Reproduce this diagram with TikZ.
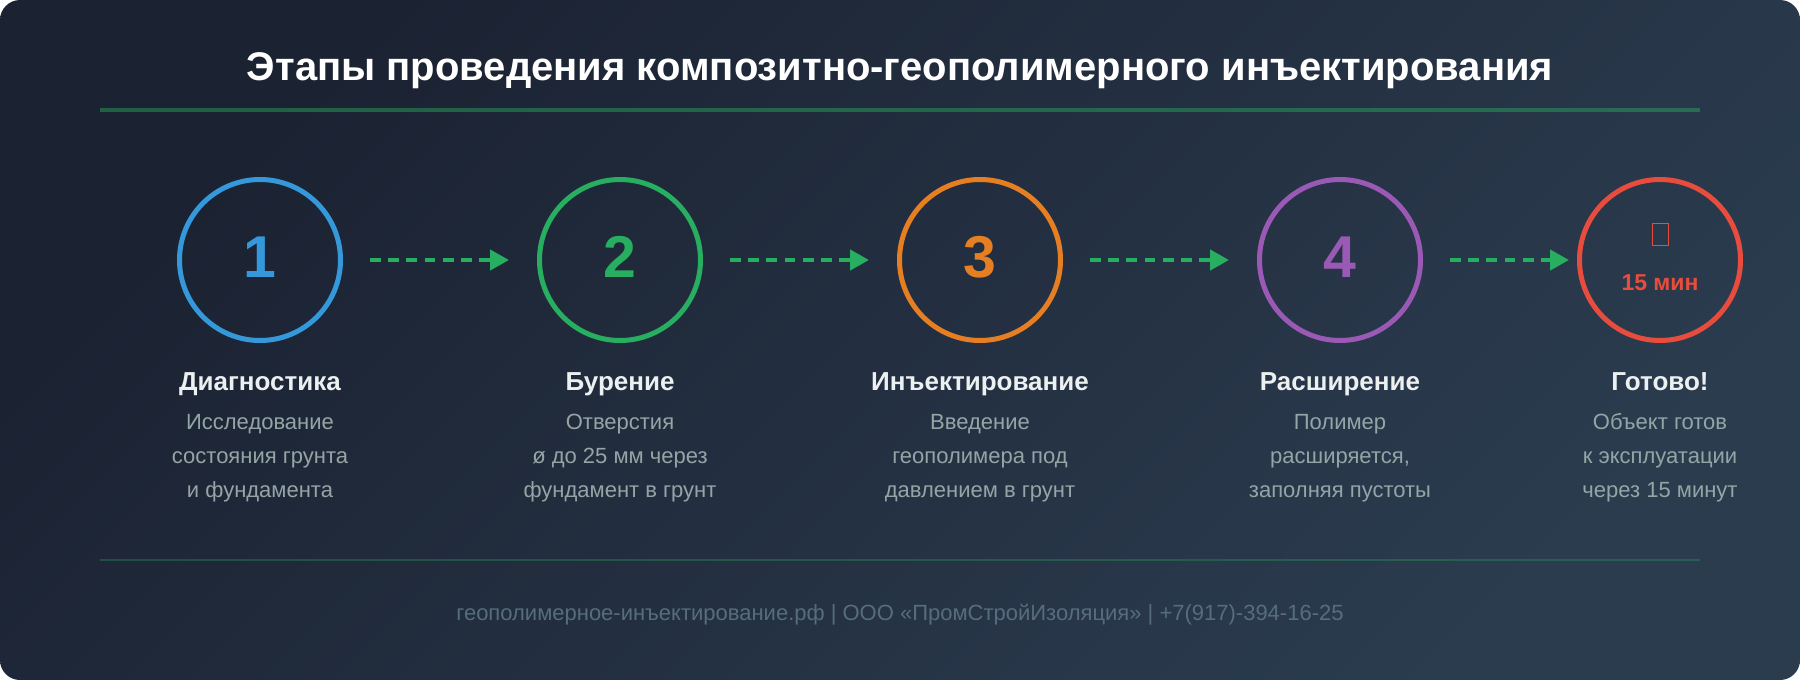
\documentclass[tikz,border=0pt]{standalone}
\usepackage{fontspec}
\setmainfont{Liberation Sans}
\usetikzlibrary{arrows.meta}
\definecolor{bgA}{HTML}{1B2232}
\definecolor{bgB}{HTML}{2B3C4F}
\definecolor{cblue}{HTML}{3498DB}
\definecolor{cgreen}{HTML}{27AE60}
\definecolor{corange}{HTML}{E67E22}
\definecolor{cpurple}{HTML}{9B59B6}
\definecolor{cred}{HTML}{E74C3C}
\definecolor{ttlcol}{HTML}{ECF0F1}
\definecolor{desccol}{HTML}{95A5A6}
\definecolor{footcol}{HTML}{566D7E}
\begin{document}
\begin{tikzpicture}[x=1pt,y=-1pt,
  ring/.style={circle, draw=#1, line width=5pt, minimum size=161pt, inner sep=0pt},
  numtxt/.style={anchor=base, text=#1, font=\fontsize{59}{60}\selectfont\bfseries, inner sep=0pt},
  steptitle/.style={anchor=base, text=ttlcol, font=\fontsize{26}{30}\selectfont\bfseries, inner sep=0pt},
  desc/.style={anchor=base, text=desccol, font=\fontsize{22}{26}\selectfont, inner sep=0pt},
  flow/.style={draw=cgreen, line width=4.3pt, dash pattern=on 10.7pt off 7.5pt,
    -{Triangle[length=19pt,width=20pt]}, shorten <=27pt, shorten >=28pt}
]
\useasboundingbox (0,0) rectangle (1800,680);
\fill[white] (0,0) rectangle (1800,680);
\shade[rounded corners=20pt, top color=bgA, bottom color=bgB, shading angle=45] (0,0) rectangle (1800,680);

% title and rules
\node[anchor=base, text=white, inner sep=0pt, font=\bfseries] (title) at (900,80)
  {\resizebox{1306pt}{!}{Этапы проведения композитно-геополимерного инъектирования}};
\coordinate (hl) at (100,110.3);
\coordinate (hr) at (1700,110.3);
\draw[cgreen, opacity=0.45, line width=4pt] (hl) -- (hr);
\coordinate (fl) at (100,560);
\coordinate (fr) at (1700,560);
\draw[cgreen, opacity=0.3, line width=1.5pt] (fl) -- (fr);
\node[anchor=base, text=footcol, inner sep=0pt] (footer) at (900,620)
  {\resizebox{887pt}{!}{геополимерное-инъектирование.рф | ООО «ПромСтройИзоляция» | +7(917)-394-16-25}};

% steps 1-4
\foreach \i/\x/\c/\ttl/\la/\lb/\lc in {
  1/260/cblue/Диагностика/Исследование/состояния грунта/и фундамента,
  2/620/cgreen/Бурение/Отверстия/ø до 25 мм через/фундамент в грунт,
  3/980/corange/Инъектирование/Введение/геополимера под/давлением в грунт,
  4/1340/cpurple/Расширение/Полимер/{расширяется,}/заполняя пустоты}{
  \node[ring=\c] (c\i) at (\x,260) {};
  \node[numtxt=\c] (n\i) at (\x,277) {\i};
  \node[steptitle] (t\i) at (\x,390) {\ttl};
  \node[desc] (da\i) at (\x,429.5) {\la};
  \node[desc] (db\i) at (\x,463.5) {\lb};
  \node[desc] (dc\i) at (\x,497.5) {\lc};
}

% step 5
\node[ring=cred] (c5) at (1660,260) {};
\node[draw=cred, line width=1pt, minimum width=16pt, minimum height=22pt, inner sep=0pt] (icon) at (1660.5,234.5) {};
\node[anchor=base, text=cred, inner sep=0pt, font=\fontsize{23}{25}\selectfont\bfseries] (mins) at (1660,290) {15 мин};
\node[steptitle] (t5) at (1660,390) {Готово!};
\node[desc] (da5) at (1660,429.5) {Объект готов};
\node[desc] (db5) at (1660,463.5) {к эксплуатации};
\node[desc] (dc5) at (1660,497.5) {через 15 минут};

% connectors
\draw[flow] (c1) -- (c2);
\draw[flow] (c2) -- (c3);
\draw[flow] (c3) -- (c4);
\draw[flow, shorten >=8pt] (c4) -- (c5);
\end{tikzpicture}
\end{document}
